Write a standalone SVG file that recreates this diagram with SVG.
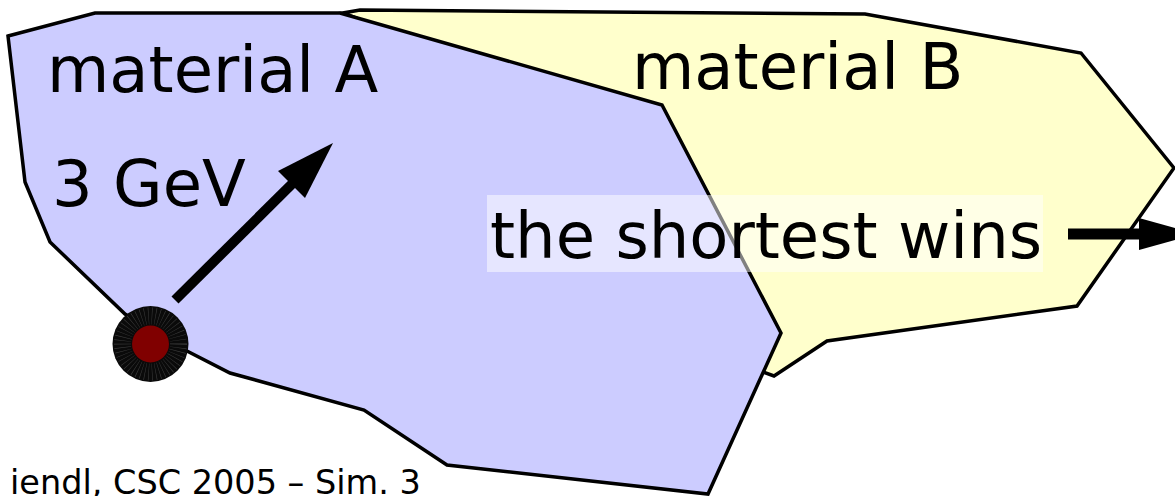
<svg xmlns="http://www.w3.org/2000/svg" width="1175" height="496" viewBox="0 0 1175 496">
<style>
.poly{stroke:#000;stroke-width:3.5;stroke-linejoin:miter}
.big{font-family:"DejaVu Sans",Verdana,sans-serif;font-size:64px;fill:#000}
.small{font-family:"DejaVu Sans",Verdana,sans-serif;font-size:33.5px;fill:#000}
</style>
<g id="materialB">
<polygon class="poly" fill="#ffffcc" points="360,10 865,14 1081,53 1174,168 1077,306 827,341 774,376 760,371 700,200 400,35 343,13"/>
</g>
<g id="materialA">
<polygon class="poly" fill="#ccccff" points="8,36 95,13 340,13 662,105 781,333 708,494 447,465 364,410 230,373 185,350 125,314 50,242 25,182"/>
</g>
<g id="labels">
<text class="big" x="47" y="92">material A</text>
<text class="big" x="632" y="89">material B</text>
<text class="big" x="52" y="206">3 GeV</text>
</g>
<g id="shortest">
<rect x="487" y="195" width="556" height="77" fill="#ffffff" fill-opacity="0.5"/>
<text class="big" x="490" y="258">the shortest wins</text>
</g>
<g id="connectors">
<line x1="175" y1="300" x2="296" y2="180" stroke="#000" stroke-width="10"/>
<polygon points="333,143 278,171 305,198" fill="#000"/>
<line x1="1068" y1="234" x2="1145" y2="234" stroke="#000" stroke-width="11"/>
<polygon points="1139,218 1139,250 1196,234" fill="#000"/>
</g>
<g id="particle">
<circle cx="150.5" cy="344" r="38" fill="#0a0a0a"/>
<circle cx="150.5" cy="344" r="28" fill="none" stroke="#888" stroke-width="17" stroke-dasharray="0.5 3" stroke-opacity="0.4"/>
<circle cx="150.5" cy="344" r="18.5" fill="#800000"/>
</g>
<g id="footer">
<text class="small" x="10" y="494">iendl, CSC 2005 – Sim. 3</text>
</g>
</svg>
